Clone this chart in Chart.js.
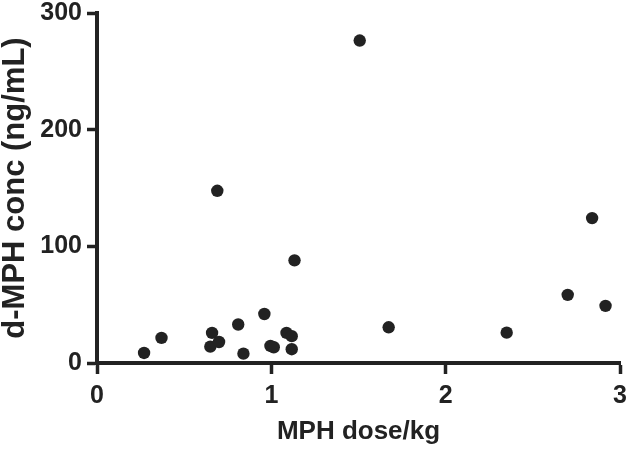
<!DOCTYPE html>
<html>
<head>
<meta charset="utf-8">
<script src="https://cdn.jsdelivr.net/npm/chart.js@4"></script>
<style>
    html, body { margin: 0; padding: 0; background: #fff; }
    #wrap { width: 630px; height: 450px; }
</style>
</head>
<body>
<div id="wrap"><canvas id="scatterChart" width="630" height="450"></canvas></div>
<script>
// MPH dose per kg (x) and d-MPH concentration (y), one entry per subject
var doseX = [0.27, 0.37, 0.65, 0.66, 0.69, 0.70, 0.81, 0.84, 0.96, 0.995, 1.014, 1.087, 1.117, 1.117, 1.133, 1.507, 1.673, 2.35, 2.70, 2.84, 2.917];
var concY = [8.6, 21.5, 14, 25.8, 147.6, 18, 33, 8, 42, 14.6, 13.5, 25.8, 23, 11.8, 88, 276.4, 30.6, 26, 58.4, 124.2, 49];
var xTicks = [0, 1, 2, 3];
var yTicks = [0, 100, 200, 300];

var ink = '#222222';
var fontFamily = '"Liberation Sans", Arial, Helvetica, sans-serif';

var points = [];
for (var i = 0; i < doseX.length; i++) {
    points.push({x: doseX[i], y: concY[i]});
}

var ctx = document.getElementById('scatterChart');
var scatterChart = new Chart(ctx, {
    type: 'scatter',
    data: {
        datasets: [{
            label: 'd-MPH',
            data: points,
            backgroundColor: ink,
            borderWidth: 0,
            pointRadius: 6.2,
            pointHoverRadius: 6.2
        }]
    },
    options: {
        responsive: false,
        animation: false,
        layout: {
            padding: {top: 13, right: 10, bottom: 0, left: 0}
        },
        plugins: {
            legend: {display: false},
            tooltip: {enabled: false}
        },
        scales: {
            x: {
                type: 'linear',
                min: 0,
                max: 3,
                afterFit: function(scale) {
                    scale.height = 87;
                    // let layout padding decide the edges, not label overhang
                    scale.paddingLeft = 0;
                    scale.paddingRight = 0;
                },
                afterBuildTicks: function(scale) {
                    scale.ticks = xTicks.map(function(v) { return {value: v}; });
                },
                border: {display: true, width: 4, color: ink},
                grid: {
                    display: true,
                    drawOnChartArea: false,
                    drawTicks: true,
                    tickLength: 11,
                    tickWidth: 3.5,
                    color: ink
                },
                ticks: {
                    color: ink,
                    padding: 7,
                    font: {family: fontFamily, size: 25, weight: 'bold'}
                },
                title: {
                    display: true,
                    text: 'MPH dose/kg',
                    color: ink,
                    padding: {top: 0, bottom: 3},
                    font: {family: fontFamily, size: 26, weight: 'bold'}
                }
            },
            y: {
                type: 'linear',
                min: 0,
                max: 300,
                afterFit: function(scale) {
                    scale.width = 97;
                    scale.paddingTop = 0;
                    scale.paddingBottom = 0;
                },
                afterBuildTicks: function(scale) {
                    scale.ticks = yTicks.map(function(v) { return {value: v}; });
                },
                border: {display: true, width: 4, color: ink},
                grid: {
                    display: true,
                    drawOnChartArea: false,
                    drawTicks: true,
                    tickLength: 10,
                    tickWidth: 3.5,
                    color: ink
                },
                ticks: {
                    color: ink,
                    padding: 5,
                    font: {family: fontFamily, size: 25, weight: 'bold'}
                },
                title: {
                    display: true,
                    text: 'd-MPH conc (ng/mL)',
                    color: ink,
                    padding: {top: 0, bottom: 0},
                    font: {family: fontFamily, size: 31, weight: 'bold', lineHeight: 1}
                }
            }
        }
    }
});
</script>
</body>
</html>
